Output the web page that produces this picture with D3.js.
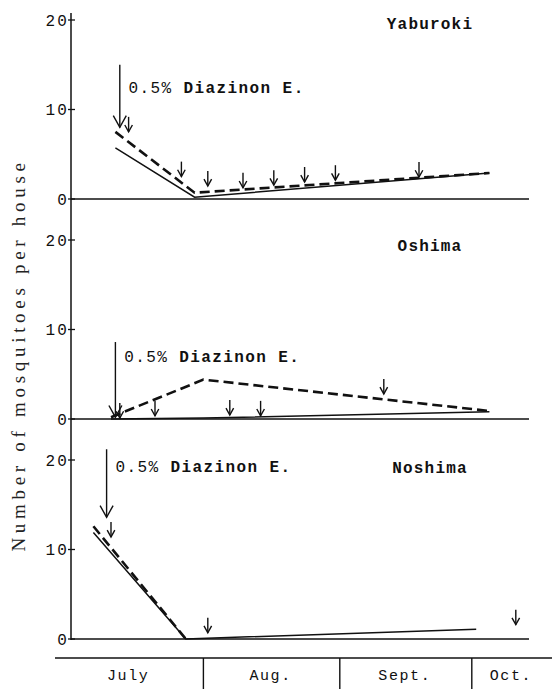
<!DOCTYPE html>
<html>
<head>
<meta charset="utf-8">
<script src="https://cdn.jsdelivr.net/npm/d3@7"></script>
<style>
  body { margin: 0; background: #fff; }
  svg { display: block; }
  .tw { font-family: "Liberation Mono", "DejaVu Sans Mono", monospace; fill: #111; }
</style>
</head>
<body>
<div id="mainWrapper"><svg width="552" height="689"></svg></div>
<script>
// 月
var months = ["July", "Aug.", "Sept.", "Oct."];
var monthStarts = ["07-01", "08-01", "09-01", "10-01"];
var seasonEnd = "10-14";
var villages = ["Yaburoki", "Oshima", "Noshima"];
var yTicks = [0, 10, 20];

// 実線 / 破線 [日付, 数]
var solidSeries = [
	[["07-12", 5.7], ["07-30", 0.2], ["10-05", 2.9]],
	[["07-11", 0], ["08-01", 0.1], ["10-05", 0.8]],
	[["07-07", 11.9], ["07-28", 0], ["10-02", 1.1]]
];
var dashedSeries = [
	[["07-12", 7.5], ["07-30", 0.7], ["10-05", 2.9]],
	[["07-11", 0.2], ["08-01", 4.4], ["10-05", 0.9]],
	[["07-07", 12.6], ["07-28", 0]]
];

// 散布 [日付, 矢印の先]
var sprayArrows = [
	[["07-15", 7.5], ["07-27", 2.5], ["08-02", 1.45], ["08-10", 1.25], ["08-17", 1.55], ["08-24", 1.9], ["08-31", 2.1], ["09-19", 2.45]],
	[["07-13", 0.1], ["07-21", 0.35], ["08-07", 0.45], ["08-14", 0.35], ["09-11", 2.8]],
	[["07-11", 11.4], ["08-02", 0.7], ["10-11", 1.6]]
];
// Diazinon 開始 [日付, 上, 先]
var firstSpray = [["07-13", 15.0, 8.0], ["07-12", 8.6, 0.2], ["07-10", 21.2, 13.6]];
var sprayLabelAt = [["07-15", 11.85], ["07-14", 6.4], ["07-12", 18.7]];

var parse = d3.timeParse("%m-%d");
var svg = d3.select("#mainWrapper>svg");

var x = d3.scaleTime()
	.domain([parse("07-01"), parse(seasonEnd)])
	.range([67, 529]);

var axisX = 71;
var panelGap = 220;
var zeroTop = 199;

villages.forEach(function(name, i){
	var zero = zeroTop + i * panelGap;
	var y = d3.scaleLinear().domain([0, 20]).range([zero, zero - 179]);
	var g = svg.append("g");

	// 0の線
	g.append("line")
		.attr("x1", axisX).attr("x2", x.range()[1])
		.attr("y1", y(0)).attr("y2", y(0))
		.attr("stroke", "#111").attr("stroke-width", 1.6);

	// 目盛
	g.selectAll(".tick")
		.data(yTicks)
		.enter()
		.append("line")
		.attr("x1", axisX - 3).attr("x2", axisX + 4)
		.attr("y1", function(d){ return y(d); })
		.attr("y2", function(d){ return y(d); })
		.attr("stroke", "#111").attr("stroke-width", 1.3);

	g.selectAll(".tl")
		.data(yTicks)
		.enter()
		.append("text")
		.attr("class", "tw")
		.attr("x", axisX - 2)
		.attr("y", function(d){ return y(d); })
		.attr("dy", "0.37em")
		.attr("text-anchor", "end")
		.attr("font-size", "16px")
		.attr("letter-spacing", "2.2px")
		.text(function(d){ return d; });

	var line = d3.line()
		.x(function(d){ return x(parse(d[0])); })
		.y(function(d){ return y(d[1]); });

	g.append("path")
		.attr("d", line(solidSeries[i]))
		.attr("fill", "none").attr("stroke", "#111").attr("stroke-width", 1.5);

	g.append("path")
		.attr("d", line(dashedSeries[i]))
		.attr("fill", "none").attr("stroke", "#111").attr("stroke-width", 2.6)
		.attr("stroke-dasharray", "10,5");

	// 矢印
	function arrow(date, top, tip, head){
		var ax = x(parse(date));
		g.append("line")
			.attr("x1", ax).attr("x2", ax)
			.attr("y1", top).attr("y2", y(tip))
			.attr("stroke", "#111").attr("stroke-width", 1.4);
		g.append("path")
			.attr("d", "M" + (ax - head) + "," + (y(tip) - head * 1.8) + "L" + ax + "," + y(tip) + "L" + (ax + head) + "," + (y(tip) - head * 1.8))
			.attr("fill", "none").attr("stroke", "#111").attr("stroke-width", 1.4);
	}

	sprayArrows[i].forEach(function(d){
		arrow(d[0], y(d[1]) - 15, d[1], 3.8);
	});
	var f = firstSpray[i];
	arrow(f[0], y(f[1]), f[2], 6.5);

	var lab = g.append("text")
		.attr("class", "tw")
		.attr("x", x(parse(sprayLabelAt[i][0])))
		.attr("y", y(sprayLabelAt[i][1]))
		.attr("font-size", "16px")
		.attr("letter-spacing", "1.4px");
	lab.append("tspan").text("0.5%");
	lab.append("tspan").attr("font-weight", "bold").text(" Diazinon E.");

	// 村名
	g.append("text")
		.attr("class", "tw")
		.attr("x", 430)
		.attr("y", zero - 170 + i * 2)
		.attr("text-anchor", "middle")
		.attr("font-size", "16px")
		.attr("font-weight", "bold")
		.attr("letter-spacing", "1.2px")
		.text(name);
});

// 縦軸
svg.append("line")
	.attr("x1", axisX).attr("x2", axisX)
	.attr("y1", 13).attr("y2", zeroTop + 2 * panelGap + 1)
	.attr("stroke", "#111").attr("stroke-width", 1.5);

svg.append("text")
	.attr("transform", "translate(25,355) rotate(-90)")
	.attr("text-anchor", "middle")
	.attr("font-family", "Liberation Serif, serif")
	.attr("font-size", "19px")
	.attr("letter-spacing", "4.7px")
	.attr("fill", "#222")
	.text("Number of mosquitoes per house");

// 月の軸
var baseY = 658;
svg.append("line")
	.attr("x1", 55).attr("x2", 552)
	.attr("y1", baseY).attr("y2", baseY)
	.attr("stroke", "#111").attr("stroke-width", 1.5);

var bounds = monthStarts.map(function(m){ return x(parse(m)); });
svg.selectAll(".div")
	.data(bounds.slice(1))
	.enter()
	.append("line")
	.attr("x1", function(d){ return d; }).attr("x2", function(d){ return d; })
	.attr("y1", baseY).attr("y2", 689)
	.attr("stroke", "#111").attr("stroke-width", 1.4);

var edges = [55].concat(bounds.slice(1)).concat([552]);
svg.selectAll(".mon")
	.data(months)
	.enter()
	.append("text")
	.attr("class", "tw")
	.attr("x", function(d, i){ return (edges[i] + edges[i + 1]) / 2 - 1; })
	.attr("y", 680)
	.attr("text-anchor", "middle")
	.attr("font-size", "15px")
	.attr("letter-spacing", "1.6px")
	.text(function(d){ return d; });
</script>
</body>
</html>
